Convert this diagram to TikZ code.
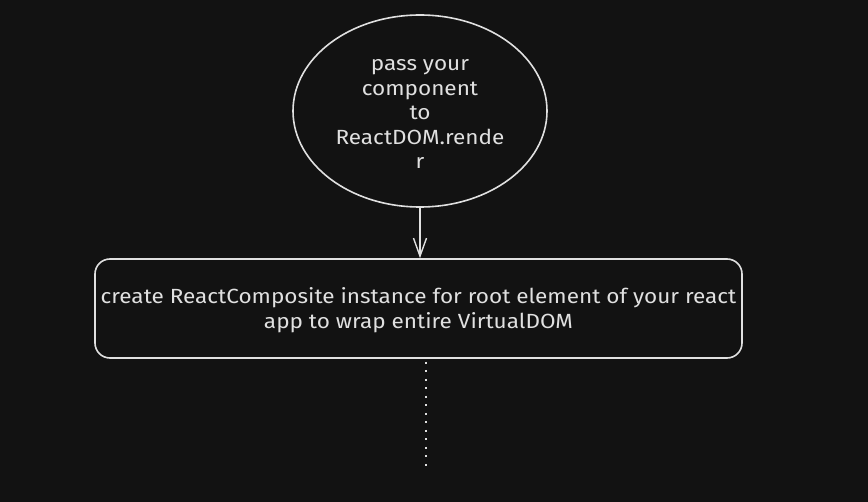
\documentclass[tikz,border=0pt]{standalone}
\usepackage{fontspec}
\setmainfont[FakeStretch=1.1]{Fira Sans}
\usetikzlibrary{shapes.geometric,arrows.meta}
\definecolor{bg}{HTML}{121212}
\definecolor{ink}{HTML}{E0E0E0}
\begin{document}
\begin{tikzpicture}[x=1pt,y=-1pt,
  shape line/.style={draw=ink,line width=1.6pt},
  label text/.style={text=ink,font=\fontsize{20.5}{24.5}\selectfont,align=center},
  connector/.style={draw=ink,line width=1.4pt,-{Straight Barb[length=18pt,width=13pt,line width=1.4pt]}},
  dotline/.style={draw=ink,line width=1.4pt,dash pattern=on 1.6pt off 6.9pt}]
\fill[bg] (0,0) rectangle (868,502);
\useasboundingbox (0,0) rectangle (868,502);
\node[shape line,ellipse,minimum width=254pt,minimum height=192pt,inner sep=0pt] (c) at (420,111) {};
\node[label text] (ct) at (420,114) {pass your\\component\\to\\ReactDOM.rende\\r};
\node[shape line,rectangle,rounded corners=15pt,minimum width=647pt,minimum height=99pt,inner sep=0pt] (r) at (418.5,308.5) {};
\node[label text] (rt) at (418.5,310) {create ReactComposite instance for root element of your react\\app to wrap entire VirtualDOM};
\draw[connector] (c.south) -- (c.south |- r.north);
\coordinate (d1) at (426,362);
\coordinate (d2) at (426,467);
\draw[dotline] (d1) -- (d2);
\end{tikzpicture}
\end{document}
